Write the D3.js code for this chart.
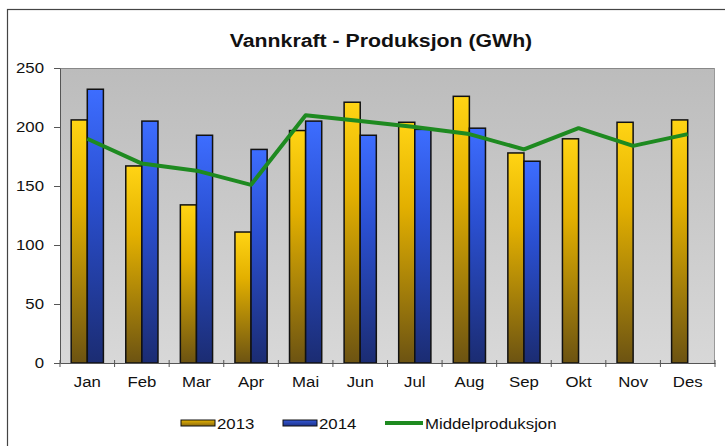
<!DOCTYPE html>
<html lang="no">
<head>
<meta charset="UTF-8">
<title>Vannkraft - Produksjon</title>
<script src="https://d3js.org/d3.v7.min.js"></script>
<style>
    body { margin: 0; background: #fff; }
    svg { display: block; font-family: "Liberation Sans", Arial, sans-serif; }
    .axis text { font-size: 15px; fill: #111; }
    .axis path, .axis line { stroke: #555; }
</style>
</head>
<body>
<div id="chart"></div>
<script>
    // Data (GWh)
    const months = ["Jan", "Feb", "Mar", "Apr", "Mai", "Jun", "Jul", "Aug", "Sep", "Okt", "Nov", "Des"];
    const prod2013 = [206, 167, 134, 111, 197, 221, 204, 226, 178, 190, 204, 206];
    const prod2014 = [232, 205, 193, 181, 205, 193, 198, 199, 171, null, null, null];
    const middel = [190, 169, 163, 151, 210, 205, 200, 194, 181, 199, 184, 194];
    const yTicks = [0, 50, 100, 150, 200, 250];

    const W = 725, H = 446;
    const stretch = 1.12; // source text is a bit wide
    const margin = {top: 68, right: 10, bottom: 83, left: 60};
    const width = 715 - margin.left,
          height = 363 - margin.top;

    const svg = d3.select("#chart").append("svg")
        .attr("width", W)
        .attr("height", H);

    const defs = svg.append("defs");
    function vgrad(id, stops) {
        const g = defs.append("linearGradient").attr("id", id)
            .attr("x1", 0).attr("y1", 0).attr("x2", 0).attr("y2", 1);
        stops.forEach(s => g.append("stop").attr("offset", s[0]).attr("stop-color", s[1]));
    }
    vgrad("bg", [[0, "#bcbcbc"], [1, "#d8d8d8"]]);
    vgrad("g2013", [[0, "#ffd414"], [0.35, "#e3b000"], [1, "#6c5312"]]);
    vgrad("g2014", [[0, "#3d6dff"], [0.4, "#2a4fd0"], [1, "#1b2c72"]]);
    vgrad("lg2013", [[0, "#e8b400"], [1, "#8a6a10"]]);
    vgrad("lg2014", [[0, "#3458d8"], [1, "#1e3288"]]);

    // outer frame (runs off the right/bottom of the picture)
    svg.append("rect")
        .attr("x", 7.5).attr("y", 9.5)
        .attr("width", 740).attr("height", 460)
        .attr("fill", "#fff")
        .attr("stroke", "#444")
        .attr("stroke-width", 1.2);

    const g = svg.append("g")
        .attr("transform", "translate(" + margin.left + "," + margin.top + ")");

    const x = d3.scaleBand()
        .domain(months)
        .range([0, width])
        .paddingInner(0.41)
        .paddingOuter(0.205);
    const x1 = d3.scaleBand()
        .domain(["2013", "2014"])
        .range([0, x.bandwidth()]);
    const y = d3.scaleLinear()
        .domain([0, 250])
        .range([height, 0]);

    g.append("rect")
        .attr("width", width)
        .attr("height", height)
        .attr("fill", "url(#bg)");
    g.append("line")
        .attr("x1", 0).attr("x2", width)
        .attr("y1", 0.5).attr("y2", 0.5)
        .attr("stroke", "#888");
    g.append("line")
        .attr("x1", width - 0.5).attr("x2", width - 0.5)
        .attr("y1", 0).attr("y2", height)
        .attr("stroke", "#999");

    const groups = g.selectAll(".month")
        .data(months)
        .enter().append("g")
        .attr("class", "month")
        .attr("transform", d => "translate(" + x(d) + ",0)");

    groups.append("rect")
        .attr("x", x1("2013"))
        .attr("width", x1.bandwidth())
        .attr("y", (d, i) => y(prod2013[i]))
        .attr("height", (d, i) => height - y(prod2013[i]))
        .attr("fill", "url(#g2013)")
        .attr("stroke", "#111")
        .attr("stroke-width", 1.5);

    groups.filter((d, i) => prod2014[i] != null).append("rect")
        .attr("x", x1("2014"))
        .attr("width", x1.bandwidth())
        .attr("y", d => y(prod2014[months.indexOf(d)]))
        .attr("height", d => height - y(prod2014[months.indexOf(d)]))
        .attr("fill", "url(#g2014)")
        .attr("stroke", "#111")
        .attr("stroke-width", 1.5);

    // mean production line
    const line = d3.line()
        .x((d, i) => x(months[i]) + x.bandwidth() / 2)
        .y(d => y(d));
    g.append("path")
        .datum(middel)
        .attr("d", line)
        .attr("fill", "none")
        .attr("stroke", "#1e8a20")
        .attr("stroke-width", 4)
        .attr("stroke-linejoin", "round");

    // axes
    const xAxis = g.append("g")
        .attr("class", "axis")
        .attr("transform", "translate(0," + height + ")")
        .call(d3.axisBottom(x).tickSize(0).tickPadding(13));
    xAxis.select(".domain").attr("stroke", "#555");
    xAxis.selectAll(".tick text").attr("transform", "scale(" + stretch + ",1)");
    const step = x.step();
    xAxis.selectAll(".sep")
        .data(d3.range(months.length + 1))
        .enter().append("line")
        .attr("class", "sep")
        .attr("x1", i => i * step).attr("x2", i => i * step)
        .attr("y1", -3).attr("y2", 4)
        .attr("stroke", "#555");

    const yAxis = g.append("g")
        .attr("class", "axis")
        .call(d3.axisLeft(y).tickValues(yTicks).tickSize(6).tickSizeOuter(0));
    yAxis.selectAll(".tick text")
        .attr("x", null)
        .attr("transform", "translate(-16,0) scale(" + stretch + ",1)");

    // title
    svg.append("text")
        .attr("transform", "translate(381,47) scale(" + stretch + ",1)")
        .attr("text-anchor", "middle")
        .style("font-size", "19px")
        .style("font-weight", "bold")
        .attr("fill", "#111")
        .text("Vannkraft - Produksjon (GWh)");

    // legend
    const legend = svg.append("g").attr("transform", "translate(0,423)");
    const items = [
        {label: "2013", type: "bar", fill: "url(#lg2013)", x: 181},
        {label: "2014", type: "bar", fill: "url(#lg2014)", x: 283},
        {label: "Middelproduksjon", type: "line", x: 385}
    ];
    items.forEach(it => {
        if (it.type === "bar") {
            legend.append("rect")
                .attr("x", it.x).attr("y", -3)
                .attr("width", 34).attr("height", 6)
                .attr("fill", it.fill)
                .attr("stroke", "#111").attr("stroke-width", 1);
        } else {
            legend.append("line")
                .attr("x1", it.x).attr("x2", it.x + 38)
                .attr("stroke", "#1e8a20").attr("stroke-width", 4);
        }
        legend.append("text")
            .attr("transform", "translate(" + (it.x + (it.type === "bar" ? 36 : 40)) + ",5.5) scale(" + stretch + ",1)")
            .style("font-size", "15px")
            .attr("fill", "#111")
            .text(it.label);
    });
</script>
</body>
</html>
